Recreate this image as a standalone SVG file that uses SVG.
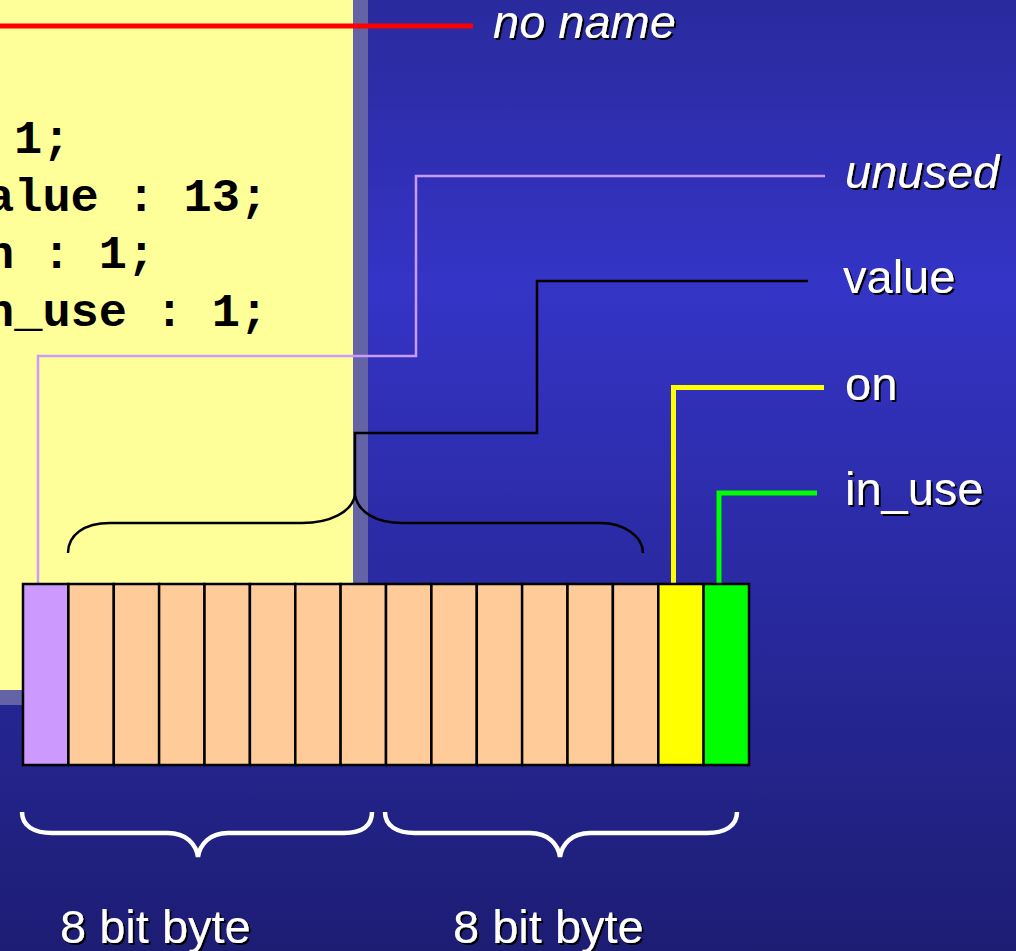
<svg xmlns="http://www.w3.org/2000/svg" width="1016" height="951" viewBox="0 0 1016 951">
  <defs>
    <linearGradient id="bg" x1="0" y1="0" x2="0" y2="1">
      <stop offset="0" stop-color="#2a2a9e"/>
      <stop offset="0.3" stop-color="#3434c6"/>
      <stop offset="1" stop-color="#1d1d74"/>
    </linearGradient>
    <filter id="shadow" x="-10%" y="-20%" width="130%" height="150%">
      <feDropShadow dx="2" dy="2" stdDeviation="0" flood-color="#000" flood-opacity="1"/>
    </filter>
    <style>
      .code { font-family: "Liberation Mono", "Courier New", monospace; font-weight: bold; font-size: 47px; fill: #000; }
      .label { font-family: "Liberation Sans", Arial, sans-serif; font-size: 47px; fill: #fff; filter: url(#shadow); }
      .ital { font-style: italic; }
      .cell { stroke: #000; stroke-width: 2.5; }
      .bit { fill: #ffcc99; }
      .wire { fill: none; stroke-linejoin: miter; }
      .brace-w { fill: none; stroke: #fff; stroke-width: 4.5; }
    </style>
  </defs>

  <!-- slide background -->
  <rect id="background" x="0" y="0" width="1016" height="951" fill="url(#bg)"/>

  <!-- code panel with its drop shadow -->
  <g id="code-panel">
    <rect x="353" y="0" width="15" height="705" fill="#6363a6"/>
    <rect x="0" y="690" width="368" height="15" fill="#6363a6"/>
    <rect x="0" y="0" width="353" height="690" fill="#ffff99"/>
    <text class="code" x="14" y="153">1;</text>
    <text class="code" x="-14" y="211">alue : 13;</text>
    <text class="code" x="-14" y="268">n : 1;</text>
    <text class="code" x="-14" y="326">n_use : 1;</text>
  </g>

  <!-- leader lines -->
  <g id="connectors">
    <line x1="0" y1="26" x2="473" y2="26" stroke="#ff0000" stroke-width="5"/>
    <polyline class="wire" points="38,584 38,356 416,356 416,176 825,176" stroke="#cc99ff" stroke-width="2.5"/>
    <polyline class="wire" points="355,495 355,433 537,433 537,281 808,281" stroke="#000" stroke-width="2.5"/>
    <polyline class="wire" points="673.5,584 673.5,387.5 824,387.5" stroke="#ffff00" stroke-width="5"/>
    <polyline class="wire" points="719,586 719,493 817,493" stroke="#00ff00" stroke-width="5"/>
  </g>

  <!-- brace over the 13-bit value field -->
  <g id="value-brace">
    <path d="M68,553 C68,535 84,523 110,523 L302,523 C330,523 352,512 355,495 C358,512 376,523 402,523 L600,523 C625,523 643,537 643,553" fill="none" stroke="#000" stroke-width="2.5"/>
  </g>

  <!-- 16-bit word -->
  <g id="bitfield">
    <rect class="cell" x="23" y="584" width="45.4" height="181" fill="#cc99ff"/>
    <rect class="cell bit" x="68.4" y="584" width="45.4" height="181"/>
    <rect class="cell bit" x="113.8" y="584" width="45.4" height="181"/>
    <rect class="cell bit" x="159.1" y="584" width="45.4" height="181"/>
    <rect class="cell bit" x="204.5" y="584" width="45.4" height="181"/>
    <rect class="cell bit" x="249.9" y="584" width="45.4" height="181"/>
    <rect class="cell bit" x="295.3" y="584" width="45.4" height="181"/>
    <rect class="cell bit" x="340.6" y="584" width="45.4" height="181"/>
    <rect class="cell bit" x="386" y="584" width="45.4" height="181"/>
    <rect class="cell bit" x="431.4" y="584" width="45.4" height="181"/>
    <rect class="cell bit" x="476.8" y="584" width="45.4" height="181"/>
    <rect class="cell bit" x="522.1" y="584" width="45.4" height="181"/>
    <rect class="cell bit" x="567.5" y="584" width="45.4" height="181"/>
    <rect class="cell bit" x="612.9" y="584" width="45.4" height="181"/>
    <rect class="cell" x="658.3" y="584" width="45.4" height="181" fill="#ffff00"/>
    <rect class="cell" x="703.6" y="584" width="45.4" height="181" fill="#00ff00"/>
  </g>

  <!-- byte braces -->
  <g id="byte-braces">
    <path class="brace-w" d="M22,812 C22,826 34,833 52,833 L168,833 C186,833 196,844 198,857 C200,844 210,833 228,833 L344,833 C362,833 372,826 372,812"/>
    <path class="brace-w" d="M385,812 C385,826 397,833 415,833 L530,833 C548,833 558,844 560,857 C562,844 572,833 590,833 L707,833 C725,833 737,826 737,812"/>
  </g>

  <!-- field labels -->
  <g id="labels">
    <text class="label ital" x="493" y="38">no name</text>
    <text class="label ital" x="845" y="188">unused</text>
    <text class="label" x="843" y="293">value</text>
    <text class="label" x="845" y="400">on</text>
    <text class="label" x="845" y="505">in_use</text>
    <text class="label" x="60" y="943">8 bit byte</text>
    <text class="label" x="453" y="943">8 bit byte</text>
  </g>
</svg>
